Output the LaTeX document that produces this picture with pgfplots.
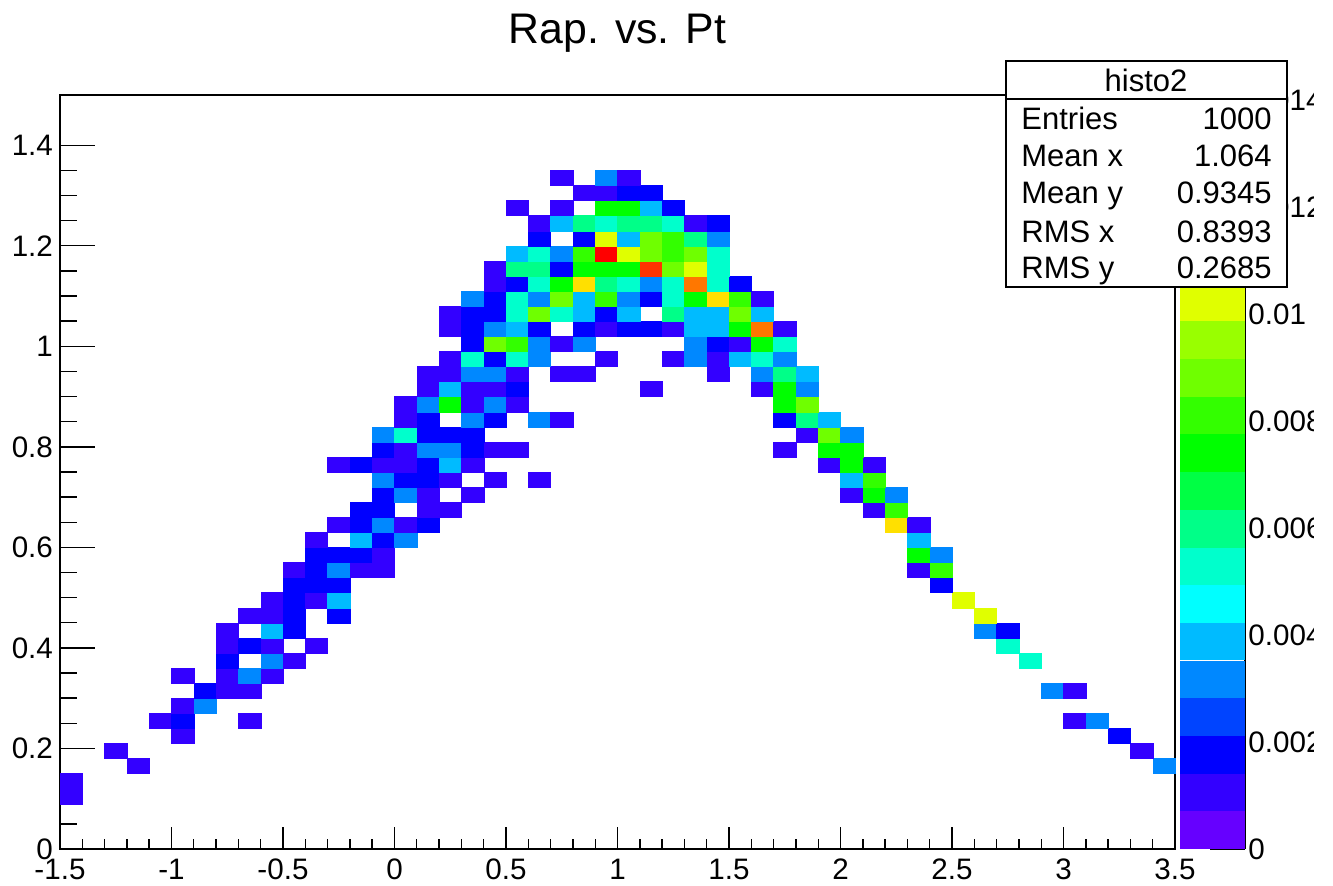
\documentclass[border=0pt]{standalone}
\usepackage{fontspec}
\setmainfont{Liberation Sans}
\usepackage{pgfplots}
\pgfplotsset{compat=1.18}
\usepackage{pgfplotstable}

% one reference pixel = 0.5pt, bins are 0.1 x 0.03 wide
\pgfdeclareplotmark{cell}{\pgfpathrectangle{\pgfpoint{-5.575pt}{-3.77pt}}{\pgfpoint{11.15pt}{7.54pt}}\pgfusepathqfillstroke}
\pgfdeclareplotmark{level}{\pgfpathrectangle{\pgfpoint{-16.25pt}{-9.425pt}}{\pgfpoint{32.5pt}{18.85pt}}\pgfusepathqfill}

\pgfplotsset{
  colormap={rootpal}{
    rgb255=(102,0,255) rgb255=(51,0,255) rgb255=(0,0,255) rgb255=(0,68,255)
    rgb255=(0,136,255) rgb255=(0,187,255) rgb255=(0,255,255) rgb255=(0,255,204)
    rgb255=(0,255,136) rgb255=(0,255,68) rgb255=(0,255,0) rgb255=(51,255,0)
    rgb255=(111,255,0) rgb255=(153,255,0) rgb255=(224,255,0) rgb255=(255,224,0)
    rgb255=(255,170,0) rgb255=(255,119,0) rgb255=(255,51,0) rgb255=(255,0,0)
  },
  colormap access=piecewise constant
}

% bin index i, bin index j, content in units of 0.001
\pgfplotstableread[row sep=\\]{
i j v\\
0 3 1\\ 0 4 1\\ 3 5 1\\ 49 5 3\\ 2 6 1\\ 48 6 1\\ 5 7 1\\ 47 7 2\\
4 8 1\\ 5 8 2\\ 8 8 1\\ 45 8 1\\ 46 8 3\\ 5 9 1\\ 6 9 3\\
6 10 2\\ 7 10 1\\ 8 10 1\\ 44 10 3\\ 45 10 1\\
5 11 1\\ 7 11 1\\ 8 11 3\\ 9 11 1\\
7 12 2\\ 9 12 3\\ 10 12 1\\ 43 12 5\\
7 13 1\\ 8 13 2\\ 9 13 1\\ 11 13 1\\ 42 13 5\\
7 14 1\\ 9 14 4\\ 10 14 2\\ 41 14 3\\ 42 14 2\\
8 15 1\\ 9 15 1\\ 10 15 2\\ 12 15 2\\ 41 15 10\\
9 16 1\\ 10 16 2\\ 11 16 1\\ 12 16 4\\ 40 16 10\\
10 17 2\\ 11 17 2\\ 12 17 2\\ 39 17 2\\
10 18 1\\ 11 18 2\\ 12 18 3\\ 13 18 1\\ 14 18 1\\ 38 18 1\\ 39 18 8\\
11 19 2\\ 12 19 2\\ 13 19 2\\ 14 19 1\\ 38 19 7.2\\ 39 19 3\\
11 20 1\\ 13 20 4\\ 14 20 2\\ 15 20 3\\ 38 20 4\\
12 21 1\\ 13 21 2\\ 14 21 3\\ 15 21 1\\ 16 21 2\\ 37 21 11\\ 38 21 1\\
13 22 2\\ 14 22 2\\ 16 22 1\\ 17 22 1\\ 36 22 1\\ 37 22 8\\
14 23 2\\ 15 23 3\\ 16 23 1\\ 18 23 1\\ 35 23 1\\ 36 23 7.2\\ 37 23 3\\
14 24 3\\ 15 24 2\\ 16 24 2\\ 17 24 1\\ 19 24 1\\ 21 24 1\\ 35 24 4\\ 36 24 8\\
12 25 1\\ 13 25 2\\ 14 25 1\\ 15 25 1\\ 16 25 2\\ 17 25 4\\ 18 25 1\\ 34 25 1\\ 35 25 7.2\\ 36 25 1\\
14 26 2\\ 15 26 1\\ 16 26 3\\ 17 26 3\\ 18 26 2\\ 19 26 1\\ 20 26 1\\ 32 26 1\\ 34 26 7.2\\ 35 26 7.2\\
14 27 3\\ 15 27 5\\ 16 27 2\\ 17 27 2\\ 18 27 2\\ 33 27 1\\ 34 27 9\\ 35 27 3\\
15 28 1\\ 16 28 2\\ 18 28 3\\ 19 28 2\\ 21 28 3\\ 22 28 1\\ 32 28 2\\ 33 28 6\\ 34 28 4\\
15 29 1\\ 16 29 3\\ 17 29 7.2\\ 18 29 1\\ 19 29 3\\ 20 29 1\\ 32 29 7.2\\ 33 29 9\\
16 30 1\\ 17 30 4\\ 18 30 1\\ 19 30 1\\ 20 30 2\\ 26 30 1\\ 31 30 1\\ 32 30 7.2\\ 33 30 3\\
16 31 1\\ 17 31 1\\ 18 31 3\\ 19 31 3\\ 20 31 1\\ 22 31 1\\ 23 31 1\\ 29 31 1\\ 31 31 3\\ 32 31 6\\ 33 31 4\\
17 32 1\\ 18 32 5\\ 19 32 2\\ 20 32 5\\ 21 32 3\\ 24 32 1\\ 27 32 1\\ 28 32 3\\ 29 32 1\\ 30 32 4\\ 31 32 5\\ 32 32 3\\
18 33 2\\ 19 33 9\\ 20 33 8\\ 21 33 3\\ 22 33 1\\ 23 33 3\\ 28 33 3\\ 29 33 2\\ 30 33 1\\ 31 33 7.2\\ 32 33 5\\
17 34 1\\ 18 34 2\\ 19 34 3\\ 20 34 4\\ 21 34 2\\ 23 34 2\\ 24 34 1\\ 25 34 2\\ 26 34 2\\ 27 34 1\\ 28 34 4\\ 29 34 4\\ 30 34 7.2\\ 31 34 12\\ 32 34 1\\
17 35 1\\ 18 35 2\\ 19 35 2\\ 20 35 5\\ 21 35 9\\ 22 35 5\\ 23 35 4\\ 24 35 2\\ 25 35 4\\ 27 35 6\\ 28 35 4\\ 29 35 4\\ 30 35 9\\ 31 35 4\\
18 36 3\\ 19 36 2\\ 20 36 5\\ 21 36 3\\ 22 36 9\\ 23 36 4\\ 24 36 8\\ 25 36 3\\ 26 36 2\\ 27 36 5\\ 28 36 7.2\\ 29 36 11\\ 30 36 8\\ 31 36 1\\
19 37 1\\ 20 37 2\\ 21 37 5\\ 22 37 7.2\\ 23 37 11\\ 24 37 6\\ 25 37 5\\ 26 37 3\\ 27 37 5\\ 28 37 12\\ 29 37 5\\ 30 37 2\\
19 38 1\\ 20 38 6\\ 21 38 6\\ 22 38 2\\ 23 38 7.2\\ 24 38 7.2\\ 25 38 7.2\\ 26 38 13\\ 27 38 9\\ 28 38 10\\ 29 38 5\\
20 39 4\\ 21 39 5\\ 22 39 3\\ 23 39 8\\ 24 39 14\\ 25 39 10\\ 26 39 9\\ 27 39 8\\ 28 39 9\\ 29 39 5\\
21 40 2\\ 23 40 2\\ 24 40 10\\ 25 40 4\\ 26 40 9\\ 27 40 8\\ 28 40 6\\ 29 40 3\\
21 41 1\\ 22 41 4\\ 23 41 6\\ 24 41 5\\ 25 41 6\\ 26 41 6\\ 27 41 5\\ 28 41 1\\ 29 41 2\\
20 42 1\\ 22 42 1\\ 24 42 7.2\\ 25 42 7.2\\ 26 42 4\\ 27 42 2\\
23 43 1\\ 24 43 1\\ 25 43 2\\ 26 43 2\\
22 44 1\\ 24 44 3\\ 25 44 1\\
}\histo

\pgfplotstableread{
x y
0.5 0.35
0.5 1.06
0.5 1.76
0.5 2.47
0.5 3.17
0.5 3.88
0.5 4.58
0.5 5.29
0.5 5.99
0.5 6.70
0.5 7.40
0.5 8.11
0.5 8.81
0.5 9.52
0.5 10.22
0.5 10.93
0.5 11.63
0.5 12.34
0.5 13.04
0.5 13.75
}\levels

\begin{document}
\begin{tikzpicture}[x=0.5pt,y=0.5pt]
\useasboundingbox (0,0) rectangle (1333,886);

\begin{axis}[
    at={(30pt,18.5pt)}, anchor=south west,
    scale only axis, width=557.5pt, height=377pt,
    xmin=-1.5, xmax=3.5, ymin=0, ymax=1.5,
    xtick={-1.5,-1,-0.5,0,0.5,1,1.5,2,2.5,3,3.5},
    xticklabels={-1.5,-1,-0.5,0,0.5,1,1.5,2,2.5,3,3.5},
    ytick={0,0.2,0.4,0.6,0.8,1,1.2,1.4},
    yticklabels={0,0.2,0.4,0.6,0.8,1,1.2,1.4},
    minor x tick num=4, minor y tick num=3,
    xtick pos=bottom, ytick pos=left, tick align=inside,
    tick label style={font=\fontsize{14.8}{14.8}\selectfont},
    xticklabel style={yshift=-1.5pt},
    tick style={black, line width=0.7pt},
    axis line style={line width=0.9pt},
    xtick style={/pgfplots/major tick length=11pt, /pgfplots/minor tick length=5pt},
    ytick style={/pgfplots/major tick length=17.5pt, /pgfplots/minor tick length=8.5pt},
    title={Rap. vs. Pt},
    title style={font=\fontsize{21.4}{21.4}\selectfont, at={(0.5,1)}, anchor=south, yshift=12pt},
    point meta min=0, point meta max=14.1,
    scatter/use mapped color={draw=mapped color, fill=mapped color},
]
\addplot[scatter, only marks, mark=cell, mark options={line width=0.15pt}, point meta=explicit]
    table[x expr=\thisrow{i}*0.1-1.45, y expr=\thisrow{j}*0.03+0.015, meta=v] {\histo};
\end{axis}

\begin{axis}[
    at={(590pt,18.5pt)}, anchor=south west,
    scale only axis, width=32.5pt, height=377pt,
    xmin=0, xmax=1, ymin=0, ymax=14.1,
    axis x line=none, axis y line=right,
    y axis line style={-, line width=0.8pt},
    ytick={0,2,4,6,8,10,12,14},
    yticklabels={0,0.002,0.004,0.006,0.008,0.01,0.012,0.014},
    tick align=inside, major tick length=17.5pt,
    tick style={black, line width=0.7pt},
    tick label style={font=\fontsize{14.8}{14.8}\selectfont, inner xsep=0pt},
    yticklabel style={xshift=1.5pt},
    axis on top,
    clip=false,
    point meta min=0, point meta max=14.1,
    scatter/use mapped color={draw=none, fill=mapped color},
]
\addplot[scatter, only marks, mark=level, point meta=y] table[x=x, y=y] {\levels};
\end{axis}

% stats box
\draw[fill=white, line width=1pt] (1006,599) rectangle (1287,825);
\draw[line width=1pt] (1006,787) -- (1287,787);
\node[anchor=base, inner sep=0pt, font=\fontsize{15.5}{15.5}\selectfont] at (1146,794) {histo2};
\foreach \yy/\lab/\val in {756/Entries/1000, 719/Mean x/1.064, 682/Mean y/0.9345, 643/RMS x/0.8393, 607/RMS y/0.2685} {
  \node[anchor=base west, inner sep=0pt, font=\fontsize{15.5}{15.5}\selectfont] at (1021,\yy) {\lab};
  \node[anchor=base east, inner sep=0pt, font=\fontsize{15.5}{15.5}\selectfont] at (1272,\yy) {\val};
}
% the reference is cut off here
\fill[white] (1314,0) rectangle (1334,886);
\end{tikzpicture}
\end{document}
